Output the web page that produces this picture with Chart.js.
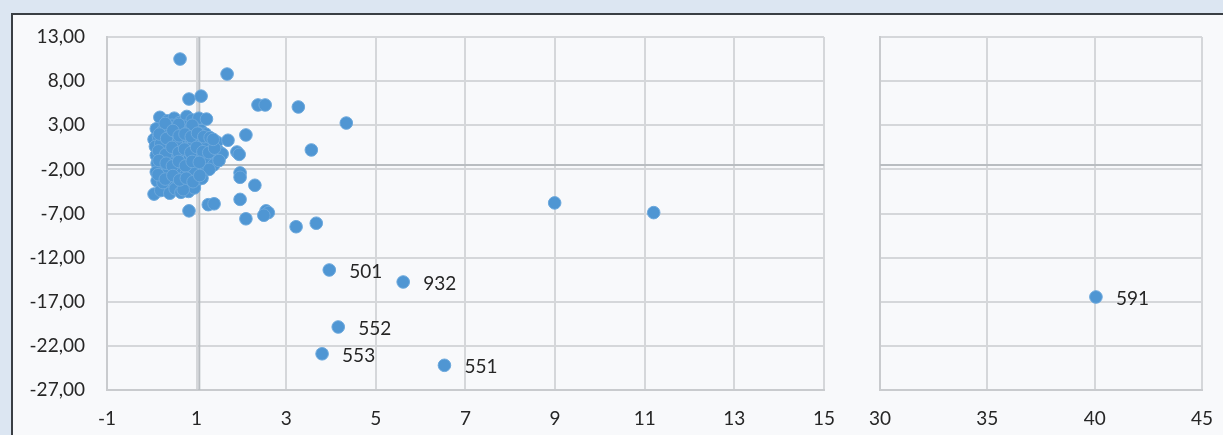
<!DOCTYPE html>
<html><head><meta charset="utf-8">
<script src="https://cdn.jsdelivr.net/npm/chart.js@4.4.1/dist/chart.umd.min.js"></script>
<style>
html,body{margin:0;padding:0;background:#dce6f2;width:1223px;height:435px;overflow:hidden;position:relative;}
#panel{position:absolute;left:11px;top:13px;width:1212px;height:422px;background:#f8f9fb;border-top:2px solid #3a3f44;border-left:2px solid #3a3f44;}
#c1{position:absolute;left:0;top:0;}
#c2{position:absolute;left:840px;top:0;}
</style></head><body>
<div id="panel"></div>
<canvas id="c1" width="852" height="435"></canvas>
<canvas id="c2" width="390" height="435"></canvas>
<script>
// main cloud of points (x, y)
const clusterX = [0.18,0.35,0.5,0.62,0.78,0.9,1.05,1.22,0.45,0.7,
 0.1,0.25,0.4,0.55,0.68,0.82,0.95,1.1,1.2,0.3,
 0.05,0.15,0.28,0.42,0.58,0.72,0.88,1.0,1.15,1.32,1.45,
 0.08,0.2,0.35,0.5,0.64,0.8,0.93,1.08,1.22,1.35,1.5,
 0.1,0.25,0.38,0.52,0.66,0.78,0.92,1.05,1.18,1.3,1.42,1.57,
 0.12,0.26,0.4,0.55,0.68,0.82,0.95,1.1,1.25,1.38,1.5,
 0.1,0.22,0.36,0.5,0.63,0.76,0.9,1.02,1.15,1.28,
 0.12,0.3,0.44,0.58,0.72,0.86,1.0,1.12,
 0.05,0.2,0.4,0.52,0.65,0.82,0.95,
 0.3,0.6,0.9,0.45,0.75,1.05,0.2,0.55,0.85,0.35,0.65,0.95,0.25,0.7,
 0.17,0.33,0.47,0.61,0.74,0.88,1.02,1.16,1.3,
 0.15,0.31,0.45,0.6,0.73,0.87,1.0,1.14,1.27,1.4,
 0.16,0.32,0.46,0.6,0.75,0.9,1.06,
 0.14,0.3,0.47,0.62,0.77,0.92,1.07,
 0.83,1.1,0.63,1.68,2.37,2.53,3.27,4.34,3.56,2.1,1.7,1.37,1.9,1.95,
 1.97,1.97,2.3,1.97,1.26,1.39,0.83,2.1,2.55,2.6,2.5,3.22,3.67,8.99,11.2];
const clusterY = [3.9,3.5,3.8,3.3,4.0,3.6,3.8,3.7,3.0,2.9,
 2.6,2.4,2.7,2.2,2.5,2.3,2.7,2.4,2.0,1.9,
 1.4,1.7,1.2,1.5,1.1,1.6,1.2,1.5,1.0,1.3,1.1,
 0.6,0.3,0.8,0.2,0.7,0.4,0.9,0.3,0.6,0.2,0.0,
 -0.4,-0.8,-0.2,-0.6,-0.3,-0.9,-0.5,-0.2,-0.7,-0.4,-0.8,-0.26,
 -1.3,-1.7,-1.2,-1.8,-1.4,-1.9,-1.3,-1.6,-1.2,-1.5,-1.0,
 -2.3,-2.8,-2.4,-2.9,-2.2,-2.6,-2.9,-2.4,-2.1,-2.0,
 -3.3,-3.7,-3.2,-3.9,-3.4,-3.8,-3.3,-3.0,
 -4.8,-4.4,-4.7,-4.2,-4.6,-4.5,-4.1,
 3.2,3.1,3.0,1.9,2.0,2.1,0.9,0.9,0.0,-1.0,-1.0,-2.0,-3.5,-4.3,
 2.0,1.5,2.4,1.8,2.0,1.7,2.1,1.7,1.6,
 0.1,-0.3,0.5,-0.1,0.3,-0.1,0.5,0.0,-0.1,0.4,
 -1.0,-1.3,-1.6,-1.1,-1.6,-1.1,-1.2,
 -2.6,-3.1,-2.7,-3.2,-3.0,-3.4,-2.7,
 5.97,6.3,10.5,8.8,5.3,5.3,5.07,3.25,0.2,1.9,1.3,1.4,-0.03,-0.3,
 -2.4,-2.9,-3.8,-5.4,-6.0,-5.9,-6.7,-7.6,-6.7,-6.9,-7.2,-8.5,-8.1,-5.8,-6.9];
// labelled outliers
const labelNames = ['501','932','552','553','551'];
const labelX = [3.96,5.61,4.16,3.8,6.53];
const labelY = [-13.4,-14.76,-19.86,-22.9,-24.2];
// right panel
const farNames = ['591'];
const farX = [40.06];
const farY = [-16.46];
// reference lines
const refX = 1.06;
const refY = -1.5;
// axis ticks
const yMin = -27, yMax = 13, yStep = 5;
const xLeftMin = -1, xLeftMax = 15, xLeftStep = 2;
const xRightMin = 30, xRightMax = 45, xRightStep = 5;

const FONT = 'Lato, "Open Sans", sans-serif';
const ptFill = '#4f96d3', ptBorder = '#6ca8dc';
const gridC = '#d5d7da';

const labelPlugin = {
  id:'lbl',
  afterDatasetsDraw(chart){
    const ctx = chart.ctx;
    chart.data.datasets.forEach((ds,i)=>{
      if(!ds.names) return;
      const meta = chart.getDatasetMeta(i);
      ctx.save();
      ctx.font = '19px ' + FONT;
      ctx.fillStyle = '#262626';
      ctx.textBaseline = 'middle';
      meta.data.forEach((el,j)=>{ ctx.fillText(ds.names[j], el.x + 20, el.y + 2); });
      ctx.restore();
    });
  }
};

function pts(xs,ys){ return xs.map((x,i)=>({x:x,y:ys[i]})); }
const ptStyle = {backgroundColor:ptFill,borderColor:ptBorder,borderWidth:1,pointRadius:6.3,pointHoverRadius:6.3};
const refStyle = {showLine:true,pointRadius:0,borderColor:'#b9bdc1',borderWidth:2,fill:false};

function yAxis(showTicks, width){
  return {type:'linear',min:yMin,max:yMax,
    ticks:{display:showTicks,stepSize:yStep,padding:22,color:'#262626',font:{family:FONT,size:19},
      callback:v=>v.toFixed(2).replace('.',',')},
    grid:{color:gridC,lineWidth:2,drawTicks:false},
    border:{color:'#c9cbce',width:2},
    afterFit(s){ s.width = width; }};
}
function xAxis(min,max,step){
  return {type:'linear',min:min,max:max,
    ticks:{stepSize:step,padding:17,color:'#262626',font:{family:FONT,size:19},maxRotation:0,autoSkip:false},
    grid:{color:gridC,lineWidth:2,drawTicks:false},
    border:{color:'#c9cbce',width:2},
    afterFit(s){ s.height = 45; }};
}
const common = {responsive:false,animation:false,
  plugins:{legend:{display:false},tooltip:{enabled:false}}};

new Chart(document.getElementById('c1'),{
  type:'scatter',
  data:{datasets:[
    Object.assign({data:[{x:xLeftMin,y:refY},{x:xLeftMax,y:refY}],order:3},refStyle),
    Object.assign({data:[{x:refX,y:yMin},{x:refX,y:yMax}],order:3},refStyle),
    Object.assign({data:pts(clusterX,clusterY),order:1},ptStyle),
    Object.assign({data:pts(labelX,labelY),names:labelNames,order:1},ptStyle)
  ]},
  options:Object.assign({},common,{
    layout:{padding:{top:37,right:5,left:0,bottom:0}},
    scales:{x:xAxis(xLeftMin,xLeftMax,xLeftStep),y:yAxis(true,107)}
  }),
  plugins:[labelPlugin]
});

new Chart(document.getElementById('c2'),{
  type:'scatter',
  data:{datasets:[
    Object.assign({data:[{x:xRightMin,y:refY},{x:xRightMax,y:refY}],order:3},refStyle),
    Object.assign({data:pts(farX,farY),names:farNames,order:1},ptStyle)
  ]},
  options:Object.assign({},common,{
    layout:{padding:{top:37,right:14,left:0,bottom:0}},
    scales:{x:xAxis(xRightMin,xRightMax,xRightStep),y:yAxis(false,40)}
  }),
  plugins:[labelPlugin]
});
</script>
</body></html>
